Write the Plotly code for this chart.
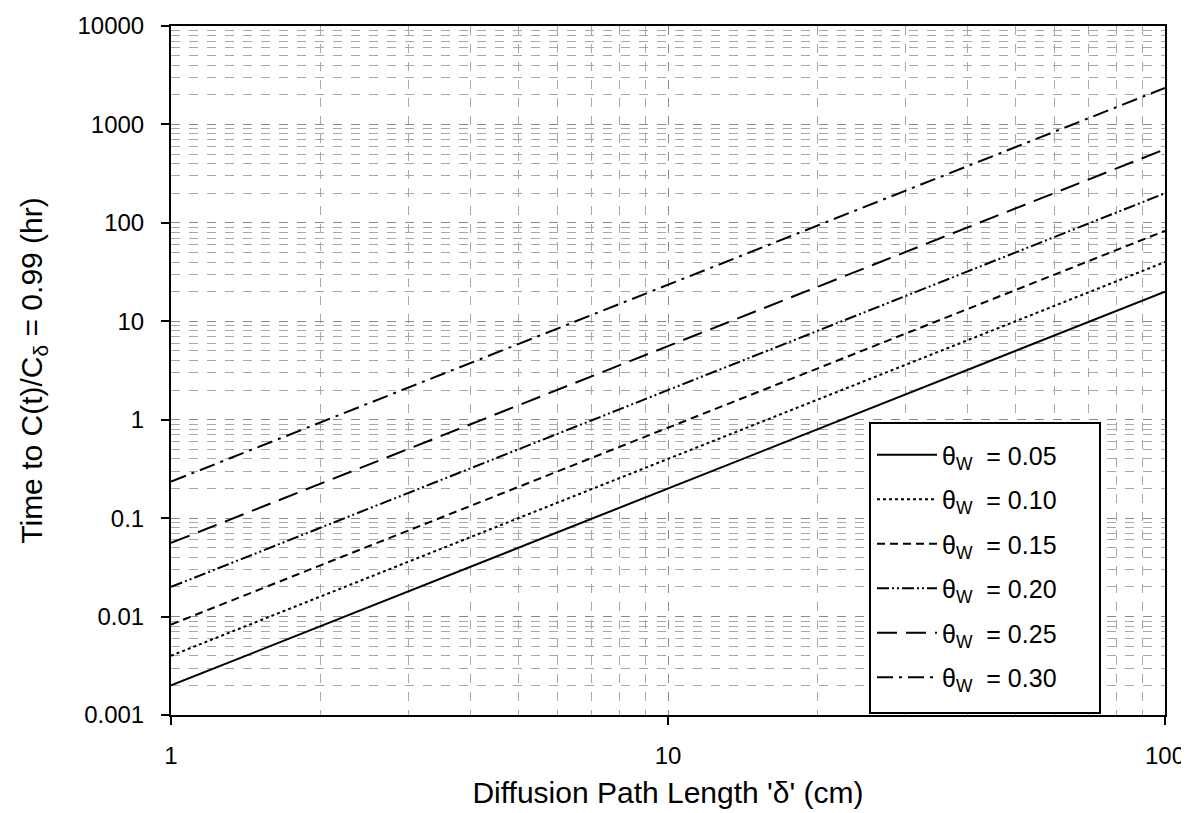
import plotly.graph_objects as go

# Data (log-log straight lines)
delta_cm = [1, 10, 100]
theta_labels = ["0.05", "0.10", "0.15", "0.20", "0.25", "0.30"]
t_005 = [0.002, 0.2, 20]
t_010 = [0.004, 0.4, 40]
t_015 = [0.0083, 0.83, 83]
t_020 = [0.02, 2.0, 200]
t_025 = [0.056, 5.6, 560]
t_030 = [0.235, 23.5, 2350]
y_tickvals = [0.001, 0.01, 0.1, 1, 10, 100, 1000, 10000]
y_ticktext = ["0.001", "0.01", "0.1", "1", "10", "100", "1000", "10000"]
x_tickvals = [1, 10, 100]
x_ticktext = ["1", "10", "100"]

series = [t_005, t_010, t_015, t_020, t_025, t_030]
dashes = ["solid", "dot", "8px,5px", "12px,3px,2px,3px,2px,3px", "20px,9px", "16px,6px,3px,6px"]

FONT = "Arial, 'Liberation Sans', sans-serif"

# plot-area geometry (pixels)
W, H = 1189, 813
L, R, T, B = 163, 1157, 18, 707
PW, PH = R - L, B - T

fig = go.Figure()
for i, (lab, ys, d) in enumerate(zip(theta_labels, series, dashes)):
    fig.add_trace(go.Scatter(
        x=delta_cm, y=ys, mode="lines",
        name="θ<sub>W</sub>  = " + lab,
        legendgroup="g%d" % i,
        line=dict(color="black", width=2, dash=d),
    ))

axis_common = dict(
    type="log",
    showline=True, linecolor="black", linewidth=2, mirror=True,
    ticks="outside", ticklen=8, tickwidth=2, tickcolor="black",
    showgrid=True, gridcolor="#8a8a8a", gridwidth=1, griddash="dash",
    minor=dict(showgrid=True, gridcolor="#a8a8a8", gridwidth=1, griddash="dash",
               ticks="", dtick="D1"),
    tickfont=dict(family=FONT, size=24, color="black"),
    zeroline=False,
    automargin=False,
)

fig.update_xaxes(
    **axis_common,
    range=[0, 2],
    tickvals=x_tickvals, ticktext=x_ticktext,
    ticklabelstandoff=10,
    title=dict(text="Diffusion Path Length 'δ' (cm)",
               font=dict(family=FONT, size=30, color="black"), standoff=14),
)
fig.update_yaxes(
    **axis_common,
    range=[-3, 4],
    tickvals=y_tickvals, ticktext=y_ticktext,
    ticklabelstandoff=12,
    title=dict(text="Time to C(t)/C<sub>δ</sub> = 0.99 (hr)",
               font=dict(family=FONT, size=30, color="black"), standoff=26),
)

# legend box (white panel with black frame), legend items drawn on top
fig.add_shape(
    type="rect", xref="paper", yref="paper",
    x0=(862 - L) / PW, x1=(1092 - L) / PW,
    y0=(B - 705) / PH, y1=(B - 415) / PH,
    fillcolor="white", line=dict(color="black", width=2), layer="above",
)

fig.update_layout(
    width=W, height=H,
    margin=dict(l=L, r=W - R, t=T, b=H - B),
    paper_bgcolor="white", plot_bgcolor="white",
    font=dict(family=FONT, color="black"),
    legend=dict(
        x=(864 - L) / PW, y=(B - 424) / PH,
        xanchor="left", yanchor="top",
        bgcolor="rgba(0,0,0,0)", borderwidth=0,
        font=dict(family=FONT, size=25, color="black"),
        itemwidth=60, tracegroupgap=9,
    ),
    showlegend=True,
)

fig.write_html("out.html")
